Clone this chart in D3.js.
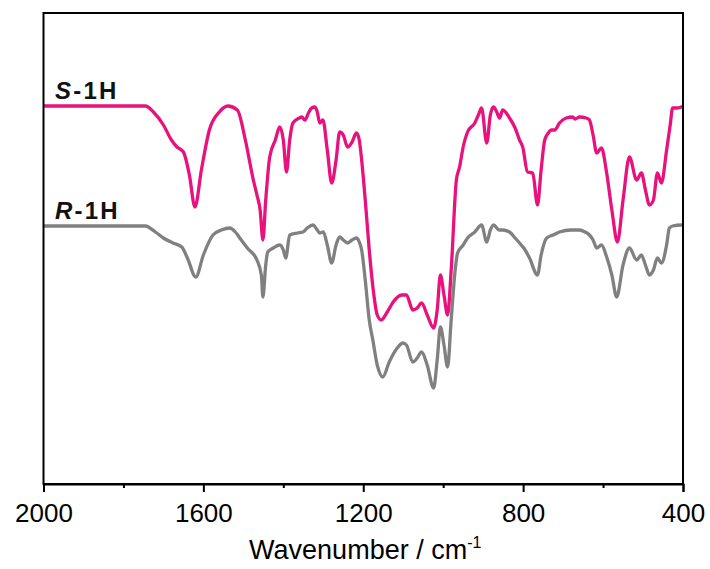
<!DOCTYPE html>
<html>
<head>
<meta charset="utf-8">
<script src="https://cdn.jsdelivr.net/npm/d3@7"></script>
<style>
  html, body { margin: 0; padding: 0; background: #fff; }
  svg { display: block; }
  text { font-family: Arial, "Liberation Sans", sans-serif; }
</style>
</head>
<body>
<svg id="chart" width="710" height="569"></svg>
<script>
// ---------- DATA (transmittance, arbitrary units, offset spectra) ----------
const wavenumberS = [2000,1900,1800,1745,1725,1700,1680,1666,1650,1635,1621,1605,1585,1560,1539,1515,1495,1475,1466,1458,1451,1444,1434,1420,1409,1400,1392,1384,1376,1360,1354,1346,1336,1329,1321,1315,1309,1301,1290,1279,1268,1259,1250,1239,1228,1217,1210,1204,1195,1185,1175,1165,1155,1140,1125,1104,1092,1076,1065,1054,1040,1024,1015,1007,998,989,980,967,959,949,939,921,912,904,891,882,874,866,859,851,834,820,809,801,789,776,764,755,746,737,729,721,709,692,676,670,659,642,634,625,616,604,591,578,564,550,534,516,504,494,484,474,464,454,441,432,426,415,404,400];
const transmS = [379,379,379,379,373,360,345,338,333,310,278,315,355,373,379,375,345,305,290,275,245,285,328,345,358,345,313,345,362,367,368,365,373,377,378,373,362,365,335,302,325,353,350,338,343,352,345,325,285,235,195,170,165,173,183,190,190,175,177,182,170,157,175,210,190,170,215,305,318,340,353,362,370,377,342,370,378,373,367,375,367,357,345,338,313,312,280,315,345,352,355,355,362,367,368,366,368,367,365,350,332,337,312,275,243,285,328,305,312,295,280,285,312,302,335,360,377,377,378,379];

const wavenumberR = [2000,1745,1720,1700,1676,1654,1640,1619,1600,1576,1555,1534,1520,1509,1490,1466,1455,1451,1444,1439,1425,1409,1400,1394,1384,1365,1351,1340,1326,1315,1309,1300,1290,1279,1268,1259,1250,1239,1228,1217,1210,1204,1195,1185,1176,1165,1151,1135,1115,1101,1092,1076,1065,1054,1040,1024,1015,1007,998,989,980,970,964,950,939,921,904,891,882,874,860,851,834,820,809,795,784,764,755,741,725,709,680,659,645,634,625,616,604,591,578,566,550,534,516,504,494,484,474,464,454,441,434,426,404,400];
const transmR = [259,259,253,247,242,238,227,208,230,250,255,257,253,247,237,225,210,188,220,233,237,240,235,227,250,252,253,257,260,255,252,253,240,222,240,248,245,242,245,247,243,235,205,165,145,120,108,123,137,142,140,123,127,133,120,97,125,158,140,118,165,215,232,240,247,253,260,243,255,260,255,255,253,247,242,235,227,210,230,247,250,253,255,255,253,250,245,237,240,228,210,188,220,237,225,230,220,210,215,227,222,240,257,259,260,260];

const xTicksMajor = [2000, 1600, 1200, 800, 400];
const xTicksMinor = [1800, 1400, 1000, 600];
const seriesNames = ["S-1H", "R-1H"];
const seriesColors = ["#e8127c", "#808080"];

// ---------- LAYOUT ----------
const svg = d3.select("#chart");
const mLeft = 43.5, mRight = 683, mTop = 13, mBottom = 484;

const x = d3.scaleLinear().domain([2000, 400]).range([mLeft, mRight]);
const y = d3.scaleLinear().domain([0, 472]).range([485, 13]);

const line = d3.line()
  .x(d => x(d[0]))
  .y(d => y(d[1]))
  .curve(d3.curveMonotoneX);

const dataS = wavenumberS.map((w, i) => [w, transmS[i]]);
const dataR = wavenumberR.map((w, i) => [w, transmR[i]]);

// series
svg.append("path").datum(dataR)
  .attr("d", line).attr("fill", "none")
  .attr("stroke", seriesColors[1]).attr("stroke-width", 3.3)
  .attr("stroke-linejoin", "round");
svg.append("path").datum(dataS)
  .attr("d", line).attr("fill", "none")
  .attr("stroke", seriesColors[0]).attr("stroke-width", 3.3)
  .attr("stroke-linejoin", "round");

// frame
svg.append("rect")
  .attr("x", mLeft).attr("y", mTop)
  .attr("width", mRight - mLeft).attr("height", mBottom - mTop)
  .attr("fill", "none").attr("stroke", "#000").attr("stroke-width", 2);

// x axis
const axis = d3.axisBottom(x)
  .tickValues(xTicksMajor)
  .tickSize(8)
  .tickPadding(12)
  .tickFormat(d3.format("d"));
const gx = svg.append("g").attr("transform", `translate(0,${mBottom})`).call(axis);
gx.select(".domain").attr("stroke-width", 2);
gx.selectAll(".tick line").attr("stroke-width", 2);
gx.selectAll(".tick text")
  .attr("font-size", 26)
  .attr("font-family", "Arial, 'Liberation Sans', sans-serif")
  .attr("fill", "#000");

const gm = svg.append("g").attr("transform", `translate(0,${mBottom})`)
  .call(d3.axisBottom(x).tickValues(xTicksMinor).tickSize(4).tickFormat(""));
gm.select(".domain").remove();
gm.selectAll(".tick line").attr("stroke-width", 2);

// axis title
const title = svg.append("text")
  .attr("x", (mLeft + mRight) / 2 + 2).attr("y", 559)
  .attr("text-anchor", "middle")
  .attr("font-size", 27).attr("fill", "#000");
title.append("tspan").text("Wavenumber / cm");
title.append("tspan").attr("dy", -11).attr("font-size", 16).text("-1");

// series labels
function seriesLabel(letter, rest, yPos) {
  const t = svg.append("text")
    .attr("x", 55).attr("y", yPos)
    .attr("font-size", 24).attr("font-weight", "bold").attr("fill", "#111")
    .attr("letter-spacing", 2.2);
  t.append("tspan").attr("font-style", "italic").text(letter);
  t.append("tspan").text(rest);
}
seriesLabel("S", "-1H", 99);
seriesLabel("R", "-1H", 219);
</script>
</body>
</html>
